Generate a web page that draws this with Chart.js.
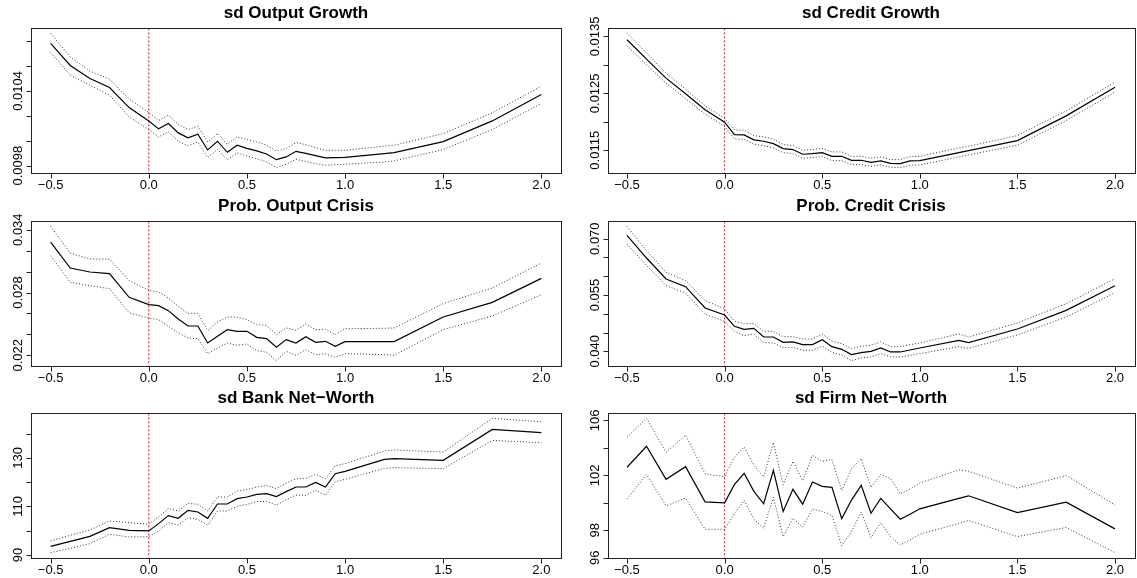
<!DOCTYPE html>
<html>
<head>
<meta charset="utf-8">
<script src="https://cdn.jsdelivr.net/npm/chart.js@4/dist/chart.umd.min.js"></script>
<style>
  body { margin: 0; background: #fff; }
  #wrap { position: relative; width: 1137px; height: 578px; overflow: hidden; }
  #wrap canvas { position: absolute; }
</style>
</head>
<body>
<div id="wrap"></div>
<script>
// shock size grid (x axis)
var xs = [-0.5,-0.4,-0.3,-0.2,-0.1,0,0.05,0.1,0.15,0.2,0.25,0.3,0.35,0.4,0.45,0.5,0.55,0.6,0.65,0.7,0.75,0.8,0.85,0.9,0.95,1.0,1.2,1.25,1.5,1.75,2.0];
var xTicks = [-0.5, 0, 0.5, 1.0, 1.5, 2.0];
var xTickLabels = ["\u22120.5", "0.0", "0.5", "1.0", "1.5", "2.0"];
var refLineX = 0;

// sd Output Growth
var outGrowth = [0.010781,0.010604,0.0105,0.010427,0.010266,0.010159,0.010095,0.010138,0.010063,0.010023,0.010052,0.009926,0.009996,0.009907,0.009964,0.009939,0.009918,0.009894,0.009848,0.00987,0.009915,0.009899,0.00988,0.009862,0.009864,0.009867,0.009897,0.009905,0.009993,0.010159,0.010371];
var outGrowthHi = [0.010862,0.010674,0.010559,0.010494,0.010334,0.010226,0.010162,0.010205,0.010132,0.01009,0.010116,0.00999,0.010057,0.009972,0.010031,0.010009,0.00999,0.009964,0.009918,0.009937,0.009985,0.009969,0.009945,0.009923,0.009923,0.009923,0.009956,0.009964,0.010057,0.010224,0.010438];
var outGrowthLo = [0.010709,0.010527,0.010446,0.010366,0.010191,0.01009,0.010031,0.010071,0.009996,0.009958,0.00999,0.009864,0.009931,0.009848,0.009902,0.009878,0.009856,0.00983,0.009784,0.009811,0.009851,0.009832,0.009816,0.009803,0.009808,0.009811,0.00983,0.009838,0.009929,0.01009,0.010299];
var outGrowthTicks = [0.0098,0.0100,0.0102,0.0104,0.0106,0.0108];
var outGrowthLabels = ["0.0098","","","0.0104","",""];

// sd Credit Growth
var credGrowth = [0.013441,0.013101,0.012767,0.012491,0.01221,0.011993,0.011776,0.01177,0.011682,0.011658,0.011617,0.011529,0.011512,0.01143,0.011441,0.011459,0.011394,0.011394,0.011324,0.011324,0.011289,0.011312,0.011271,0.011265,0.011312,0.011318,0.011459,0.011494,0.01167,0.012104,0.012608];
var credGrowthHi = [0.013553,0.013207,0.012855,0.012573,0.01228,0.012063,0.011858,0.011852,0.011758,0.011735,0.011694,0.0116,0.011582,0.0115,0.011512,0.011535,0.011471,0.011471,0.011394,0.011394,0.011359,0.011383,0.011336,0.011336,0.011389,0.011394,0.011541,0.01157,0.011758,0.012192,0.012696];
var credGrowthLo = [0.013336,0.013001,0.012679,0.012409,0.012133,0.011922,0.011699,0.011694,0.011606,0.011582,0.011541,0.011459,0.011441,0.011359,0.011371,0.011389,0.011318,0.011318,0.011248,0.011248,0.011218,0.011242,0.011201,0.011195,0.011236,0.011242,0.011383,0.011418,0.011588,0.012022,0.012521];
var credGrowthTicks = [0.0115,0.0120,0.0125,0.0130,0.0135];
var credGrowthLabels = ["0.0115","","0.0125","","0.0135"];

// Prob. Output Crisis
var outCrisis = [0.032822,0.03034,0.029958,0.029798,0.027538,0.026838,0.026743,0.026265,0.025469,0.024801,0.024801,0.023178,0.023814,0.024451,0.024292,0.024292,0.023719,0.023592,0.022764,0.023496,0.023178,0.023783,0.023241,0.023337,0.022859,0.023305,0.023305,0.023305,0.02566,0.027061,0.029353];
var outCrisisHi = [0.034318,0.031772,0.031199,0.031199,0.02913,0.028207,0.028048,0.027475,0.026679,0.026011,0.026011,0.024355,0.025183,0.02566,0.025629,0.025406,0.024928,0.024865,0.023973,0.02461,0.024387,0.024992,0.024451,0.024483,0.023973,0.024546,0.024578,0.02461,0.026934,0.02843,0.030817];
var outCrisisLo = [0.031517,0.028971,0.028652,0.028366,0.026042,0.025565,0.025406,0.024769,0.024133,0.023655,0.023592,0.022159,0.0227,0.023178,0.022955,0.023082,0.022446,0.022286,0.021491,0.022382,0.022,0.022541,0.022064,0.022127,0.021809,0.022159,0.022064,0.022,0.024451,0.025756,0.027793];
var outCrisisTicks = [0.022,0.024,0.026,0.028,0.030,0.032,0.034];
var outCrisisLabels = ["0.022","","","0.028","","","0.034"];

// Prob. Credit Crisis
var credCrisis = [0.070888,0.064853,0.059261,0.057219,0.051539,0.049675,0.046657,0.045858,0.046124,0.043817,0.043817,0.042397,0.042485,0.041775,0.041775,0.043107,0.041243,0.040533,0.039112,0.039645,0.04,0.040888,0.039822,0.039822,0.040355,0.040888,0.042929,0.042308,0.045947,0.050917,0.057486];
var credCrisisHi = [0.073285,0.066806,0.061036,0.058817,0.053492,0.051361,0.047988,0.047367,0.047367,0.045326,0.045326,0.043905,0.043905,0.043284,0.043284,0.044616,0.042663,0.042041,0.04071,0.041331,0.041598,0.042485,0.041243,0.041243,0.041775,0.042219,0.044616,0.043817,0.047545,0.052693,0.05935];
var credCrisisLo = [0.068581,0.0629,0.057486,0.055533,0.049852,0.047988,0.045326,0.044172,0.044616,0.042308,0.042219,0.040976,0.041065,0.040266,0.040266,0.04142,0.039734,0.039024,0.037515,0.038225,0.038491,0.039379,0.038491,0.038491,0.038935,0.039379,0.041243,0.0408,0.044349,0.049142,0.055622];
var credCrisisTicks = [0.040,0.045,0.050,0.055,0.060,0.065,0.070];
var credCrisisLabels = ["0.040","","","0.055","","","0.070"];

// sd Bank Net-Worth
var bankNW = [93.57,95.63,97.69,101.26,100.16,99.89,102.91,106.21,105.11,108.41,107.72,105.11,111.02,111.02,113.21,113.9,115.0,115.27,114.04,116.1,118.02,118.02,119.94,118.02,123.52,124.48,129.42,129.7,129.01,141.78,140.41];
var bankNWHi = [95.77,98.1,100.3,104.01,103.32,102.64,105.66,109.23,108.13,111.29,110.88,108.13,113.9,113.9,116.37,116.92,118.02,118.71,117.33,119.67,121.32,121.59,123.24,121.46,126.81,127.64,132.86,133.27,132.44,146.32,144.94];
var bankNWLo = [90.96,92.75,94.67,98.52,97.42,97.55,99.89,103.32,102.36,105.38,104.7,102.23,108.13,108.13,110.05,110.88,111.98,112.11,110.6,112.8,114.72,114.59,116.79,114.59,120.22,121.18,125.71,125.99,125.58,137.25,136.29];
var bankNWTicks = [90,100,110,120,130,140];
var bankNWLabels = ["90","","110","","130",""];

// sd Firm Net-Worth
var firmNW = [102.59,104.12,101.71,102.63,100.07,100.0,101.32,102.15,100.83,99.93,102.37,99.37,100.98,99.9,101.51,101.2,101.12,98.85,100.2,101.27,99.24,100.32,99.56,98.8,99.17,99.56,100.32,100.51,99.29,100.05,98.1];
var firmNWHi = [104.78,106.15,103.68,104.93,102.1,101.9,103.32,104.07,102.73,101.88,104.39,101.32,103.02,101.61,103.46,103.02,103.15,100.88,102.49,103.22,101.12,102.07,101.76,100.66,101.0,101.44,102.4,102.3,101.07,101.98,99.85];
var firmNWLo = [100.29,102.05,99.78,100.34,98.07,98.07,99.2,100.17,98.8,98.15,100.39,97.54,98.88,98.22,99.54,99.37,99.07,96.88,97.9,99.32,97.46,98.56,97.54,96.93,97.29,97.71,98.5,98.71,97.54,98.2,96.37];
var firmNWTicks = [96,98,100,102,104,106];
var firmNWLabels = ["96","98","","102","","106"];

var FONT = '"Liberation Sans", Arial, Helvetica, sans-serif';

// R style frame: box, outward ticks, rotated y labels, title
var rFrame = {
    id: 'rFrame',
    afterDraw: function (chart) {
        var o = chart.options.plugins.rFrame;
        var ctx = chart.ctx, a = chart.chartArea;
        var xs_ = chart.scales.x, ys_ = chart.scales.y;
        var L = Math.round(a.left) + 0.5, R = Math.round(a.right) + 0.5;
        var T = Math.round(a.top) + 0.5, B = Math.round(a.bottom) + 0.5;
        ctx.save();
        ctx.strokeStyle = '#222';
        ctx.fillStyle = '#000';
        ctx.lineWidth = 1;
        ctx.strokeRect(L, T, R - L, B - T);
        // x axis
        ctx.beginPath();
        xTicks.forEach(function (v) {
            var px = Math.round(xs_.getPixelForValue(v)) + 0.5;
            ctx.moveTo(px, B);
            ctx.lineTo(px, B + 5);
        });
        ctx.stroke();
        ctx.font = '13px ' + FONT;
        ctx.textAlign = 'center';
        ctx.textBaseline = 'middle';
        xTicks.forEach(function (v, i) {
            ctx.fillText(xTickLabels[i], xs_.getPixelForValue(v), B + 12);
        });
        // y axis
        ctx.beginPath();
        o.ticks.forEach(function (v) {
            var py = Math.round(ys_.getPixelForValue(v)) + 0.5;
            ctx.moveTo(L, py);
            ctx.lineTo(L - 5, py);
        });
        ctx.stroke();
        o.ticks.forEach(function (v, i) {
            if (!o.labels[i]) return;
            ctx.save();
            ctx.translate(L - 13, ys_.getPixelForValue(v));
            ctx.rotate(-Math.PI / 2);
            ctx.fillText(o.labels[i], 0, 0);
            ctx.restore();
        });
        // title
        ctx.font = 'bold 17px ' + FONT;
        ctx.fillText(o.title, (a.left + a.right) / 2, 13);
        ctx.restore();
    }
};

function pts(vals) {
    return xs.map(function (x, i) { return { x: x, y: vals[i] }; });
}

function makePanel(col, row, title, mean, hi, lo, ticks, labels) {
    var left = col === 0 ? 0 : 568;
    var width = col === 0 ? 568 : 569;
    var top = Math.round(row * 192.67);
    var height = 193;
    var cv = document.createElement('canvas');
    cv.width = width;
    cv.height = height;
    cv.style.left = left + 'px';
    cv.style.top = top + 'px';
    cv.style.width = width + 'px';
    cv.style.height = height + 'px';
    document.getElementById('wrap').appendChild(cv);

    // R default: data range extended by 4%
    var all = hi.concat(lo, mean);
    var mn = Math.min.apply(null, all), mx = Math.max.apply(null, all);
    var pad = (mx - mn) * 0.04;

    var band = {
        borderColor: '#333',
        borderWidth: 1,
        borderDash: [1, 2],
        pointRadius: 0,
        fill: false
    };
    new Chart(cv, {
        type: 'line',
        data: {
            datasets: [
                Object.assign({ label: 'upper', data: pts(hi) }, band),
                Object.assign({ label: 'lower', data: pts(lo) }, band),
                { label: title, data: pts(mean), borderColor: '#000', borderWidth: 1.2, pointRadius: 0, fill: false },
                {
                    label: 'zero', data: [{ x: refLineX, y: mn - 2 * pad }, { x: refLineX, y: mx + 2 * pad }],
                    borderColor: '#ff0000', borderWidth: 1, borderDash: [2, 2], pointRadius: 0, fill: false
                }
            ]
        },
        options: {
            responsive: false,
            animation: false,
            layout: {
                padding: col === 0
                    ? { left: 31, right: 7, top: 28, bottom: 20 }
                    : { left: 39.5, right: 2.5, top: 28, bottom: 20 }
            },
            scales: {
                x: { type: 'linear', min: -0.6, max: 2.1, display: false },
                y: { type: 'linear', min: mn - pad, max: mx + pad, display: false }
            },
            elements: { line: { tension: 0 } },
            plugins: {
                legend: { display: false },
                tooltip: { enabled: false },
                rFrame: { title: title, ticks: ticks, labels: labels }
            }
        },
        plugins: [rFrame]
    });
}

makePanel(0, 0, 'sd Output Growth', outGrowth, outGrowthHi, outGrowthLo, outGrowthTicks, outGrowthLabels);
makePanel(1, 0, 'sd Credit Growth', credGrowth, credGrowthHi, credGrowthLo, credGrowthTicks, credGrowthLabels);
makePanel(0, 1, 'Prob. Output Crisis', outCrisis, outCrisisHi, outCrisisLo, outCrisisTicks, outCrisisLabels);
makePanel(1, 1, 'Prob. Credit Crisis', credCrisis, credCrisisHi, credCrisisLo, credCrisisTicks, credCrisisLabels);
makePanel(0, 2, 'sd Bank Net\u2212Worth', bankNW, bankNWHi, bankNWLo, bankNWTicks, bankNWLabels);
makePanel(1, 2, 'sd Firm Net\u2212Worth', firmNW, firmNWHi, firmNWLo, firmNWTicks, firmNWLabels);
</script>
</body>
</html>
